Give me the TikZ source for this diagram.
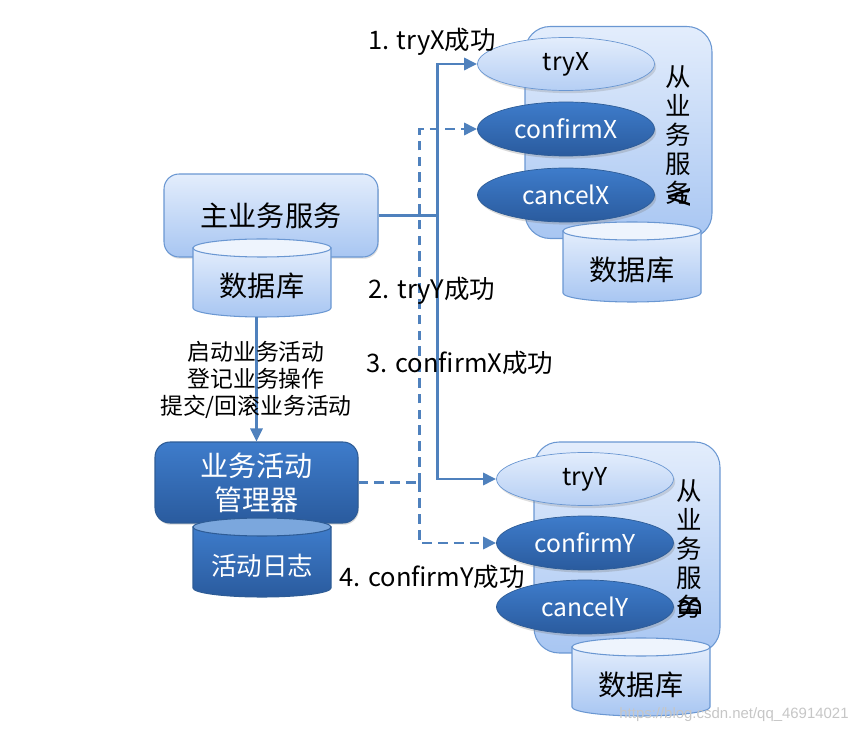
\documentclass[tikz,border=0pt]{standalone}
\usepackage{fontspec}
\setmainfont{Noto Sans CJK SC}
\newfontfamily\wmfont{Liberation Sans}
\usetikzlibrary{arrows.meta, positioning, shapes.geometric, shadows}
\definecolor{lineblue}{HTML}{4F81BD}
\definecolor{lighttop}{HTML}{E3EDFC}
\definecolor{lightbot}{HTML}{A8C6F2}
\definecolor{lightedge}{HTML}{6A97D2}
\definecolor{darktop}{HTML}{3E7CCB}
\definecolor{darkbot}{HTML}{2A5B9E}
\definecolor{darkedge}{HTML}{2E5C96}
\definecolor{capblue}{HTML}{7BA7DD}
\tikzset{
  svcbox/.style={rectangle, rounded corners=0.5cm, draw=lightedge, top color=lighttop, bottom color=lightbot, line width=0.6pt},
  mainbox/.style={rectangle, rounded corners=0.3cm, draw=lightedge, top color=lighttop, bottom color=lightbot, line width=0.6pt, align=center, drop shadow={opacity=0.25, shadow xshift=0.5pt, shadow yshift=-1pt}},
  mgrbox/.style={rectangle, rounded corners=0.3cm, draw=darkedge, top color=darktop, bottom color=darkbot, text=white, line width=0.6pt, align=center, drop shadow={opacity=0.3, shadow xshift=0.5pt, shadow yshift=-1pt}},
  tryop/.style={ellipse, draw=lightedge, top color=lighttop, bottom color=lightbot!85!white, minimum width=3.54cm, minimum height=1.06cm, inner sep=0pt, font=\fontsize{14}{16}\selectfont, drop shadow={opacity=0.25, shadow xshift=1pt, shadow yshift=-1.5pt}},
  doop/.style={ellipse, draw=darkedge, top color=darktop, bottom color=darkbot, text=white, minimum width=3.54cm, minimum height=1.08cm, inner sep=0pt, font=\fontsize{14}{16}\selectfont, drop shadow={opacity=0.3, shadow xshift=1pt, shadow yshift=-1.5pt}},
  lightbody/.style={draw=lightedge, top color=lighttop, bottom color=lightbot, line width=0.6pt},
  lightcap/.style={draw=lightedge, fill=lighttop!60!white, line width=0.6pt},
  lighttext/.style={font=\fontsize{16}{18}\selectfont},
  darkbody/.style={draw=darkedge, top color=darktop, bottom color=darkbot, line width=0.6pt},
  darkcap/.style={draw=darkedge, fill=capblue, line width=0.6pt},
  darktext/.style={font=\fontsize{14.5}{16}\selectfont, text=white},
  sidetext/.style={align=center, font=\fontsize{14.5}{16.4}\selectfont, inner sep=0pt},
  sidetag/.style={rotate=90, font=\fontsize{17}{18}\selectfont, inner sep=0pt},
  steplabel/.style={font=\fontsize{14.5}{16}\selectfont, inner sep=0pt},
  wire/.style={draw=lineblue, line width=1.6pt},
  wirearr/.style={wire, -{Triangle[length=2.6mm, width=2.4mm]}},
  dashwire/.style={wire, dash pattern=on 5.5pt off 3.5pt},
  dasharr/.style={dashwire, -{Triangle[length=2.6mm, width=2.4mm]}},
}
% database cylinder: name, centre x, top y, bottom y, light/dark, text
\newcommand{\dbcyl}[6]{%
  \path[#5body] (#2-69,#3) -- (#2-69,#4) arc[start angle=180, end angle=360, x radius=69, y radius=9] -- (#2+69,#3) -- cycle;
  \path[#5cap] (#2,#3) ellipse [x radius=69, y radius=9];
  \coordinate (#1 bot) at (#2,{#4-9});
  \node[#5text] (#1) at (#2,{(#3+#4)/2-8}) {#6};
}

\begin{document}
\begin{tikzpicture}[x=0.02cm, y=0.02cm]
\useasboundingbox (0,0) rectangle (863,-733);

% service A and B
\node[svcbox, minimum width=3.74cm, minimum height=4.24cm] (svca) at (618.5,-132.5) {};
\dbcyl{dba}{632}{-231}{-293}{light}{数据库}
\node[tryop] (tryx) at (566,-64) {tryX};
\node[doop] (confirmx) at (566,-129) {confirmX};
\node[doop] (cancelx) at (566,-195) {cancelX};
\node[sidetext] (sidea) at (678,-135) {从\\业\\务\\服\\务};
\node[sidetag] (taga) at (680,-197) {A};

\node[svcbox, minimum width=3.72cm, minimum height=4.22cm] (svcb) at (627,-547.5) {};
\dbcyl{dbb}{641}{-647}{-707}{light}{数据库}
\node[tryop] (tryy) at (585,-479) {tryY};
\node[doop] (confirmy) at (585,-543) {confirmY};
\node[doop] (cancely) at (585,-607) {cancelY};
\node[sidetext] (sideb) at (689,-549) {从\\业\\务\\服\\务};
\node[sidetag] (tagb) at (691,-608) {B};

% main service and activity manager
\node[mainbox, minimum width=4.28cm, minimum height=1.66cm, font=\fontsize{16}{18}\selectfont] (main) at (271,-215.5) {主业务服务};
\dbcyl{maindb}{262}{-248}{-308}{light}{数据库}
\node[mgrbox, minimum width=4.06cm, minimum height=1.62cm, font=\fontsize{16}{19.3}\selectfont] (mgr) at (256.5,-482.5) {业务活动\\管理器};
\dbcyl{logdb}{262}{-527}{-588}{dark}{活动日志}

% connectors
\draw[wirearr] (mgr.north |- maindb bot) -- (mgr.north);
\coordinate[right=1.18cm of main.east] (jx);
\draw[wire] (main.east) -- (jx);
\foreach \t in {tryx, tryy} \draw[wirearr] (jx) |- (\t);
\coordinate[right=1.22cm of mgr.east] (jd);
\draw[dashwire] (mgr.east) -- (jd);
\foreach \t in {confirmx, confirmy} \draw[dasharr] (jd) |- (\t);

% labels
\node[align=center, font=\fontsize{13}{15.3}\selectfont, inner sep=1pt] (acts) at (256,-380) {启动业务活动\\登记业务操作\\提交/回滚业务活动};
\node[steplabel] (s1) at (432,-42) {1. tryX成功};
\node[steplabel] (s2) at (432,-291) {2. tryY成功};
\node[steplabel] (s3) at (460,-363) {3. confirmX成功};
\node[steplabel] (s4) at (432,-577) {4. confirmY成功};

\node[font=\wmfont\fontsize{8.5}{10}\selectfont, text=gray!45] (wm) at (734,-715) {https://blog.csdn.net/qq\_46914021};
\end{tikzpicture}
\end{document}
